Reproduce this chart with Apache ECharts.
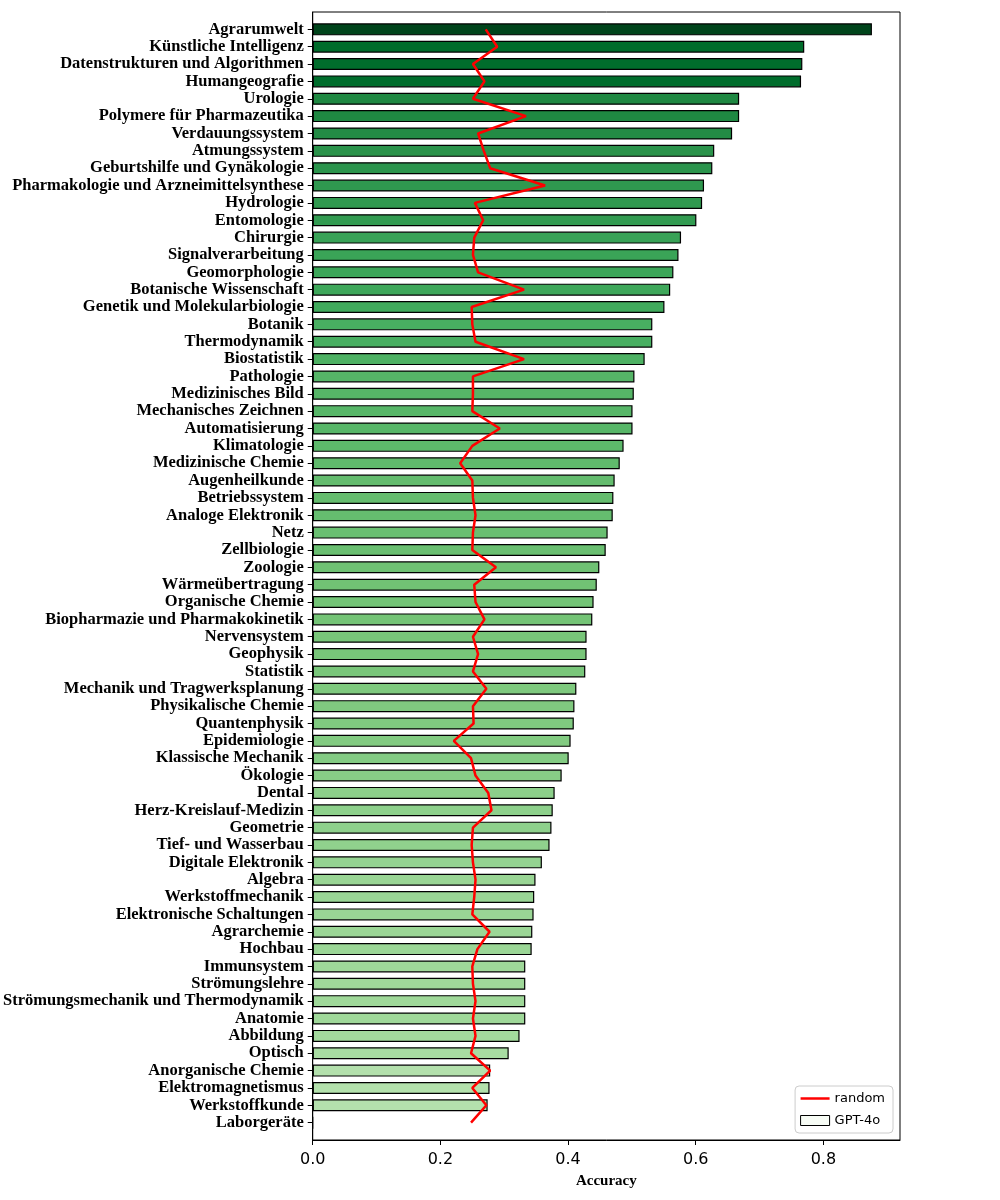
<!DOCTYPE html>
<html>
<head>
<meta charset="utf-8">
<script src="https://cdn.jsdelivr.net/npm/echarts@6/dist/echarts.min.js"></script>
<style>html,body{margin:0;padding:0;background:#fff}#c{width:1000px;height:1200px}</style>
</head>
<body>
<div id="c"></div>
<script>
const categories = [
  "Agrarumwelt","Künstliche Intelligenz","Datenstrukturen und Algorithmen","Humangeografie","Urologie",
  "Polymere für Pharmazeutika","Verdauungssystem","Atmungssystem","Geburtshilfe und Gynäkologie",
  "Pharmakologie und Arzneimittelsynthese","Hydrologie","Entomologie","Chirurgie","Signalverarbeitung",
  "Geomorphologie","Botanische Wissenschaft","Genetik und Molekularbiologie","Botanik","Thermodynamik",
  "Biostatistik","Pathologie","Medizinisches Bild","Mechanisches Zeichnen","Automatisierung","Klimatologie",
  "Medizinische Chemie","Augenheilkunde","Betriebssystem","Analoge Elektronik","Netz","Zellbiologie",
  "Zoologie","Wärmeübertragung","Organische Chemie","Biopharmazie und Pharmakokinetik","Nervensystem",
  "Geophysik","Statistik","Mechanik und Tragwerksplanung","Physikalische Chemie","Quantenphysik",
  "Epidemiologie","Klassische Mechanik","Ökologie","Dental","Herz-Kreislauf-Medizin","Geometrie",
  "Tief- und Wasserbau","Digitale Elektronik","Algebra","Werkstoffmechanik","Elektronische Schaltungen",
  "Agrarchemie","Hochbau","Immunsystem","Strömungslehre","Strömungsmechanik und Thermodynamik","Anatomie",
  "Abbildung","Optisch","Anorganische Chemie","Elektromagnetismus","Werkstoffkunde","Laborgeräte"
];
const gpt4o = [
  0.876,0.770,0.767,0.765,0.668,0.668,0.657,0.629,0.626,0.613,0.610,0.601,0.577,0.573,0.565,0.560,
  0.551,0.532,0.532,0.520,0.504,0.503,0.501,0.501,0.487,0.481,0.473,0.471,0.470,0.462,0.459,0.449,
  0.445,0.440,0.438,0.429,0.429,0.427,0.413,0.410,0.409,0.404,0.401,0.390,0.379,0.376,0.374,0.371,
  0.359,0.349,0.347,0.346,0.344,0.343,0.333,0.333,0.333,0.333,0.324,0.307,0.278,0.277,0.274,0.0
];
const randomAcc = [
  0.271,0.289,0.251,0.269,0.251,0.334,0.259,0.268,0.278,0.364,0.254,0.267,0.253,0.251,0.259,0.331,
  0.249,0.250,0.255,0.331,0.251,0.251,0.250,0.293,0.250,0.231,0.250,0.251,0.255,0.251,0.250,0.287,
  0.253,0.255,0.269,0.251,0.259,0.251,0.272,0.251,0.252,0.221,0.248,0.255,0.275,0.280,0.251,0.249,
  0.251,0.255,0.253,0.250,0.277,0.258,0.250,0.251,0.255,0.251,0.255,0.248,0.278,0.250,0.272,0.248
];
const xTicks = [0, 0.2, 0.4, 0.6, 0.8];

// matplotlib "Greens" colormap stops
const greens = ["#f7fcf5","#e5f5e0","#c7e9c0","#a1d99b","#74c476","#41ab5d","#238b45","#006d2c","#00441b"];
function hex2rgb(h){return [parseInt(h.slice(1,3),16),parseInt(h.slice(3,5),16),parseInt(h.slice(5,7),16)];}
function cmap(t){
  t = Math.max(0, Math.min(1, t));
  const p = t * (greens.length - 1);
  const i = Math.min(Math.floor(p), greens.length - 2);
  const f = p - i;
  const a = hex2rgb(greens[i]), b = hex2rgb(greens[i+1]);
  const c = a.map((v,k)=>Math.round(v + (b[k]-v)*f));
  return 'rgb(' + c.join(',') + ')';
}
const vmax = Math.max(...gpt4o);

const yCats = [' '].concat(categories).concat(['  ']);
const barData = [null].concat(gpt4o.map(v => ({
  value: v,
  itemStyle: { color: cmap(v / vmax), borderColor: '#000', borderWidth: 1.2 }
}))).concat([null]);
const lineData = [null].concat(randomAcc).concat([null]);

const labelFont = "'Liberation Serif', 'DejaVu Serif', serif";
const chart = echarts.init(document.getElementById('c'), null, { renderer: 'canvas' });
chart.setOption({
  animation: false,
  backgroundColor: '#fff',
  grid: { left: 312, right: 100, top: 12, bottom: 60, show: true, borderColor: '#000', borderWidth: 1, backgroundColor: 'transparent' },
  xAxis: {
    type: 'value', min: 0, max: 0.92,
    name: 'Accuracy', nameLocation: 'middle', nameGap: 34,
    nameTextStyle: { fontFamily: labelFont, fontWeight: 'bold', fontSize: 15, color: '#000' },
    axisLine: { show: true, lineStyle: { color: '#000', width: 1 } },
    axisTick: { show: true, length: 5, lineStyle: { color: '#000' }, customValues: xTicks },
    axisLabel: { color: '#000', fontFamily: "'DejaVu Sans', sans-serif", fontSize: 16, margin: 12,
      customValues: xTicks, formatter: v => v.toFixed(1) },
    splitLine: { show: false }
  },
  yAxis: {
    type: 'category', inverse: true, boundaryGap: false, data: yCats,
    axisLine: { show: true, lineStyle: { color: '#000', width: 1 } },
    axisTick: { show: true, length: 5, lineStyle: { color: '#000' }, interval: (i, v) => v.trim() !== '' },
    axisLabel: { color: '#000', fontFamily: labelFont, fontWeight: 'bold', fontSize: 16.5, margin: 9, interval: 0 },
    splitLine: { show: false }
  },
  legend: {
    orient: 'vertical', right: 107, bottom: 67,
    backgroundColor: '#fff', borderColor: '#cccccc', borderWidth: 1, borderRadius: 4,
    padding: [6, 8, 6, 5], itemGap: 9, itemWidth: 29, itemHeight: 10,
    textStyle: { fontFamily: "'DejaVu Sans', sans-serif", fontSize: 13, color: '#000' },
    data: [
      { name: 'random', icon: 'path://M0,0H29V2.5H0Z', itemStyle: { color: '#ff0000', borderWidth: 0 } },
      { name: 'GPT-4o', icon: 'rect', itemStyle: { color: '#f7fcf5', borderColor: '#000', borderWidth: 1 } }
    ]
  },
  series: [
    { name: 'GPT-4o', type: 'bar', data: barData, barWidth: 12, z: 2,
      itemStyle: { color: '#f7fcf5', borderColor: '#000', borderWidth: 1.2 } },
    { name: 'random', type: 'line', data: lineData, symbol: 'none', showSymbol: false, z: 3,
      lineStyle: { color: '#ff0000', width: 2.5 }, itemStyle: { color: '#ff0000' } }
  ]
});
</script>
</body>
</html>
